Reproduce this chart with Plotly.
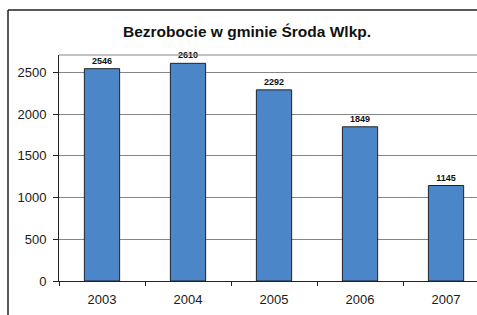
import plotly.graph_objects as go

years = ["2003", "2004", "2005", "2006", "2007"]
values = [2546, 2610, 2292, 1849, 1145]
title = "Bezrobocie w gminie Środa Wlkp."
y_ticks = [0, 500, 1000, 1500, 2000, 2500]

fig = go.Figure()
fig.add_trace(go.Bar(
    x=years, y=values,
    width=0.41,
    marker=dict(color="#4a86c8", line=dict(color="#222222", width=1)),
    text=[str(v) for v in values],
    textposition="outside",
    textfont=dict(family="Arial, Liberation Sans", size=9, color="#111111"),
    texttemplate="<b>%{text}</b>",
    cliponaxis=False,
    hoverinfo="skip",
))

fig.update_layout(
    width=477, height=315,
    margin=dict(l=59, r=0, t=55, b=34),
    paper_bgcolor="white", plot_bgcolor="white",
    showlegend=False,
    font=dict(family="Arial, Liberation Sans", size=13, color="#1a1a1a"),
    xaxis=dict(
        type="category",
        range=[-0.5, 4.36],
        showline=True, linecolor="#222222", linewidth=1,
        ticks="outside", ticklen=4, tickcolor="#222222",
        tickson="boundaries",
        showgrid=False,
        ticklabelstandoff=6,
        tickfont=dict(size=13),
    ),
    yaxis=dict(
        range=[0, 2710],
        tickvals=y_ticks,
        showline=True, linecolor="#222222", linewidth=1,
        ticks="outside", ticklen=5, tickcolor="#222222",
        showgrid=True, gridcolor="#858585", gridwidth=1.2,
        zeroline=False,
        ticklabelstandoff=4,
        tickfont=dict(size=13),
    ),
    annotations=[dict(
        text="<b>" + title + "</b>",
        xref="paper", yref="paper",
        x=(247 - 59) / 418, y=(281 - 32) / 226,
        xanchor="center", yanchor="middle",
        showarrow=False,
        font=dict(family="Arial, Liberation Sans", size=15.5, color="#111111"),
    )],
    shapes=[
        dict(type="line", xref="paper", yref="paper", x0=0, x1=1.05, y0=1, y1=1,
             line=dict(color="#858585", width=1.2)),
        dict(type="line", xref="paper", yref="paper",
             x0=(8 - 59) / 418, x1=1.1, y0=(281 - 10) / 226, y1=(281 - 10) / 226,
             line=dict(color="#222222", width=1.5)),
        dict(type="line", xref="paper", yref="paper",
             x0=(8 - 59) / 418, x1=(8 - 59) / 418, y0=(281 - 10) / 226, y1=-0.3,
             line=dict(color="#222222", width=1.5)),
    ],
)

fig.write_html(
    "out.html",
    config={"displayModeBar": False},
    post_script="document.body.style.margin='0';document.body.style.overflow='hidden';",
)
